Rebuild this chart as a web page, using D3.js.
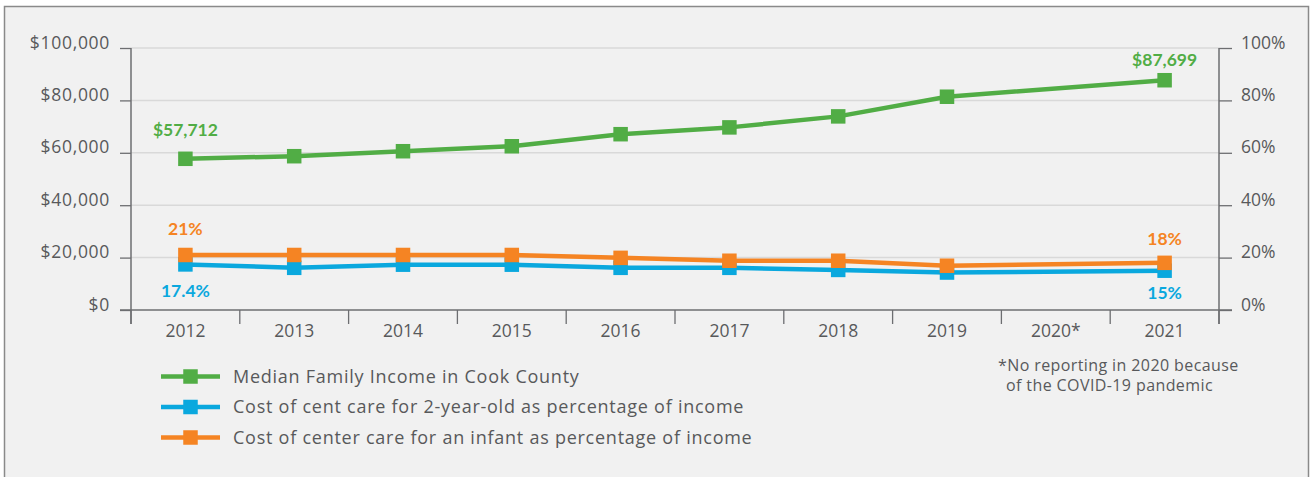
<!DOCTYPE html>
<html>
<head>
<meta charset="utf-8">
<script src="https://cdn.jsdelivr.net/npm/d3@7"></script>
<style>
  html, body { margin: 0; padding: 0; background: #ffffff; }
  svg { display: block; }
  text { font-family: "Open Sans", "Noto Sans", sans-serif; }
  text.bold { font-family: Lato, "Open Sans", sans-serif; }
</style>
</head>
<body>
<svg id="chart" width="1314" height="477"></svg>
<script>
// Years on the x axis (2020 has no reported data)
const years = ["2012", "2013", "2014", "2015", "2016", "2017", "2018", "2019", "2020*", "2021"];

// Median family income in Cook County (USD)
const medianIncome = [57712, 58700, 60600, 62500, 67100, 69700, 73900, 81400, null, 87699];

// Cost of center care for a 2-year-old, % of income
const toddlerCarePct = [17.4, 16.1, 17.3, 17.3, 16.1, 16.1, 15.3, 14.3, null, 15];

// Cost of center care for an infant, % of income
const infantCarePct = [21, 21, 21, 21, 19.9, 18.8, 18.8, 16.9, null, 18];

// Axis tick values
const incomeTicks = [0, 20000, 40000, 60000, 80000, 100000];
const pctTicks = [0, 20, 40, 60, 80, 100];

const seriesNames = [
  "Median Family Income in Cook County",
  "Cost of cent care for 2-year-old as percentage of income",
  "Cost of center care for an infant as percentage of income"
];
const noteLines = ["*No reporting in 2020 because", "of the COVID-19 pandemic"];

const GREEN = "#51ad45", BLUE = "#0aa8de", ORANGE = "#f58423";
const TEXT = "#58595b", AXIS = "#6d6e71", GRID = "#d9d9d9";

const svg = d3.select("#chart");

// Panel background and frame
svg.append("rect")
  .attr("x", 4.5).attr("y", 6.5).attr("width", 1304).attr("height", 490)
  .attr("fill", "#f1f1f1").attr("stroke", "#8a8a8a").attr("stroke-width", 1.5);

const plotLeft = 131, plotRight = 1219, plotTop = 48, plotBottom = 310;

const x = d3.scaleBand().domain(years).range([plotLeft, plotRight]);
const yL = d3.scaleLinear().domain([0, 100000]).range([plotBottom, plotTop]);
const yR = d3.scaleLinear().domain([0, 100]).range([plotBottom, plotTop]);

// Horizontal grid lines
svg.append("g").selectAll("line")
  .data(incomeTicks.filter(d => d > 0))
  .join("line")
  .attr("x1", plotLeft).attr("x2", plotRight)
  .attr("y1", d => yL(d)).attr("y2", d => yL(d))
  .attr("stroke", GRID).attr("stroke-width", 1.5);

// Left axis (income)
const gL = svg.append("g")
  .attr("transform", `translate(${plotLeft},0)`)
  .call(d3.axisLeft(yL).tickValues(incomeTicks).tickSize(11).tickPadding(10)
    .tickFormat(d => "$" + d3.format(",")(d)));
gL.select(".domain").remove();

// Right axis (percent)
const gR = svg.append("g")
  .attr("transform", `translate(${plotRight},0)`)
  .call(d3.axisRight(yR).tickValues(pctTicks).tickSize(13).tickPadding(9)
    .tickFormat(d => d + "%"));
gR.select(".domain").remove();

[gL, gR].forEach(g => {
  g.selectAll(".tick line").attr("stroke", AXIS).attr("stroke-width", 1.3);
  g.selectAll(".tick text").attr("fill", TEXT).attr("font-size", 17.5).attr("dy", "0.0em");
});
gL.selectAll(".tick text").attr("letter-spacing", 0.7);

// Bottom axis: year labels centered in bands
const gB = svg.append("g")
  .attr("transform", `translate(0,${plotBottom})`)
  .call(d3.axisBottom(x).tickSize(0).tickPadding(15));
gB.select(".domain").remove();
gB.selectAll(".tick text").attr("fill", TEXT).attr("font-size", 17.5);

// Band boundary ticks
const bounds = years.map(d => x(d)).concat([x.range()[1]]);
svg.append("g").selectAll("line")
  .data(bounds)
  .join("line")
  .attr("x1", d => d).attr("x2", d => d)
  .attr("y1", plotBottom).attr("y2", plotBottom + 14)
  .attr("stroke", AXIS).attr("stroke-width", 1.3);

// Axis frame lines
svg.append("line").attr("x1", plotLeft - 11).attr("x2", plotRight + 13)
  .attr("y1", plotBottom).attr("y2", plotBottom).attr("stroke", AXIS).attr("stroke-width", 1.5);
svg.append("line").attr("x1", plotLeft).attr("x2", plotLeft)
  .attr("y1", plotTop).attr("y2", plotBottom + 14).attr("stroke", AXIS).attr("stroke-width", 1.5);
svg.append("line").attr("x1", plotRight).attr("x2", plotRight)
  .attr("y1", plotTop).attr("y2", plotBottom + 14).attr("stroke", AXIS).attr("stroke-width", 1.5);

const cx = d => x(d) + x.bandwidth() / 2;
const MS = 14.5;

function drawSeries(values, scale, color) {
  const pts = years.map((yr, i) => ({ yr, v: values[i] })).filter(p => p.v != null);
  const line = d3.line().x(p => cx(p.yr)).y(p => scale(p.v));
  svg.append("path").datum(pts)
    .attr("d", line).attr("fill", "none")
    .attr("stroke", color).attr("stroke-width", 4.5).attr("stroke-linejoin", "round");
  svg.append("g").selectAll("rect")
    .data(pts).join("rect")
    .attr("x", p => cx(p.yr) - MS / 2).attr("y", p => scale(p.v) - MS / 2)
    .attr("width", MS).attr("height", MS).attr("fill", color);
  return pts;
}

drawSeries(medianIncome, yL, GREEN);
drawSeries(toddlerCarePct, yR, BLUE);
drawSeries(infantCarePct, yR, ORANGE);

// Value labels at the first and last year
function valueLabel(yr, val, scale, text, color, dy) {
  svg.append("text").attr("class", "bold")
    .attr("x", cx(yr)).attr("y", scale(val) + dy)
    .attr("text-anchor", "middle").attr("fill", color)
    .attr("font-size", 17.5).attr("font-weight", 700)
    .text(text);
}
const last = years.length - 1;
valueLabel(years[0], medianIncome[0], yL, "$" + d3.format(",")(medianIncome[0]), GREEN, -23);
valueLabel(years[last], medianIncome[last], yL, "$" + d3.format(",")(medianIncome[last]), GREEN, -14);
valueLabel(years[0], infantCarePct[0], yR, infantCarePct[0] + "%", ORANGE, -20);
valueLabel(years[last], infantCarePct[last], yR, infantCarePct[last] + "%", ORANGE, -18);
valueLabel(years[0], toddlerCarePct[0], yR, toddlerCarePct[0] + "%", BLUE, 33);
valueLabel(years[last], toddlerCarePct[last], yR, toddlerCarePct[last] + "%", BLUE, 28);

// Legend
const legendColors = [GREEN, BLUE, ORANGE];
const lg = svg.append("g").selectAll("g")
  .data(seriesNames).join("g")
  .attr("transform", (d, i) => `translate(0,${376.5 + i * 30.5})`);
lg.append("line").attr("x1", 161).attr("x2", 220).attr("y1", 0).attr("y2", 0)
  .attr("stroke", (d, i) => legendColors[i]).attr("stroke-width", 4.5);
lg.append("rect").attr("x", 190.5 - MS / 2).attr("y", -MS / 2)
  .attr("width", MS).attr("height", MS).attr("fill", (d, i) => legendColors[i]);
lg.append("text").attr("x", 233).attr("y", 0).attr("dy", "0.35em")
  .attr("fill", TEXT).attr("font-size", 18).attr("letter-spacing", 0.75).text(d => d);

// Footnote
svg.append("g").selectAll("text")
  .data(noteLines).join("text")
  .attr("x", (d, i) => i === 0 ? 998 : 1006)
  .attr("y", (d, i) => 365 + i * 20).attr("dy", "0.35em")
  .attr("fill", TEXT).attr("font-size", 16).attr("letter-spacing", 0.4).text(d => d);
</script>
</body>
</html>
